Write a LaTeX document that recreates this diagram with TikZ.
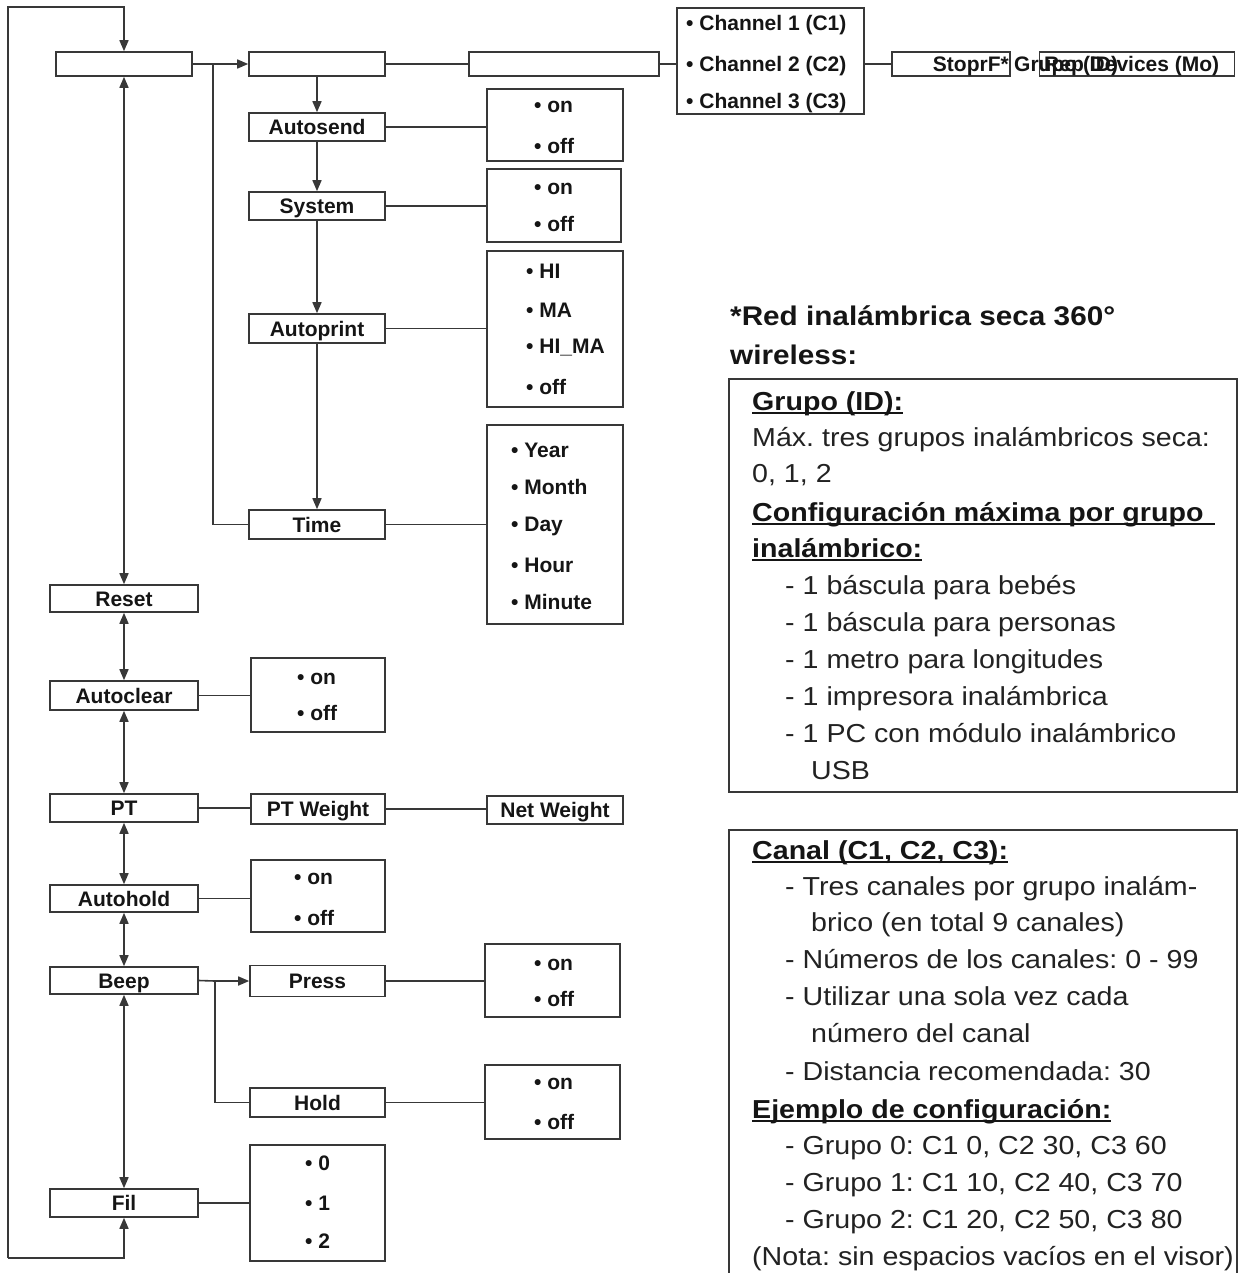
\documentclass[tikz,border=0pt]{standalone}
\usepackage{fontspec}
\setmainfont{Liberation Sans}
\newfontfamily\dfontfam{Liberation Sans}
\newfontfamily\rfontfam[FakeStretch=1.1]{Liberation Sans}
\usetikzlibrary{arrows.meta}
\definecolor{lc}{HTML}{383838}
\definecolor{tc}{HTML}{151515}
\definecolor{bc}{HTML}{222222}
\frenchspacing
\newcommand\dfont{\dfontfam\bfseries\fontsize{21}{25}\selectfont}
\newcommand\rfont{\rfontfam\fontsize{26}{31}\selectfont}
\newcommand\rbfont{\rfontfam\bfseries\fontsize{26}{31}\selectfont}
\newcommand\tfont{\rfontfam\bfseries\fontsize{27}{32}\selectfont}
\newcommand\myul[1]{\setbox0\hbox{#1}\rlap{\rule[-3.5pt]{\wd0}{1.6pt}}\box0}
\begin{document}
\begin{tikzpicture}[x=1pt,y=-1pt,
  bx/.style={draw=lc,line width=1.6pt,fill=white,inner sep=0pt,text height=15pt,text depth=0pt,font=\dfont,text=tc},
  ot/.style={anchor=west,inner sep=0pt,text height=15pt,text depth=0pt,font=\dfont,text=tc},
  ln/.style={draw=lc,line width=1.6pt},
  arr/.style={ln,-{Triangle[length=11pt,width=9pt]}},
  darr/.style={ln,{Triangle[length=11pt,width=9pt]}-{Triangle[length=11pt,width=9pt]}},
  rt/.style={anchor=west,inner sep=0pt,text height=18pt,text depth=0pt,font=\rfont,text=bc},
  rh/.style={anchor=west,inner sep=0pt,text height=18pt,text depth=0pt,font=\rbfont,text=tc},
  th/.style={anchor=west,inner sep=0pt,text height=19pt,text depth=0pt,font=\tfont,text=tc},
  frame/.style={draw=lc,line width=1.6pt,inner sep=0pt}]
\useasboundingbox (0,0) rectangle (1242,1273);
\clip (0,0) rectangle (1242,1273);
\fill[white] (0,0) rectangle (1242,1273);

% ---- top row ----
\node[bx,minimum width=136pt,minimum height=24pt] (t0) at (124,64) {};
\node[bx,minimum width=136pt,minimum height=24pt] (t1) at (317,64) {};
\node[bx,minimum width=190pt,minimum height=24pt] (t2) at (564,64) {};
\node[bx,minimum width=187pt,minimum height=106pt] (chan) at (770.5,61) {};
\node[ot] (c1) at (686,23) {• Channel 1 (C1)};
\node[ot] (c2) at (686,64) {• Channel 2 (C2)};
\node[ot] (c3) at (686,101) {• Channel 3 (C3)};
\node[bx,minimum width=118pt,minimum height=24pt] (stop) at (951,64) {};
\node[bx,minimum width=195pt,minimum height=24pt] (dev) at (1137,64) {};
\node[ot,anchor=east] (stoptxt) at (1009,64) {StoprF*};
\node[ot] (grtxt) at (1014,64) {Grupo (ID)};
\node[ot] (devtxt) at (1044,64) {Rep Devices (Mo)};

% ---- first submenu column ----
\node[bx,minimum width=136pt,minimum height=28pt] (autosend) at (317,127) {Autosend};
\node[bx,minimum width=136pt,minimum height=72pt] (aso) at (555,125) {};
\node[ot] (aso1) at (534,105) {• on};
\node[ot] (aso2) at (534,146) {• off};

\node[bx,minimum width=136pt,minimum height=28pt] (system) at (317,206) {System};
\node[bx,minimum width=134pt,minimum height=73pt] (syso) at (554,205.5) {};
\node[ot] (syso1) at (534,187) {• on};
\node[ot] (syso2) at (534,224) {• off};

\node[bx,minimum width=136pt,minimum height=29pt] (autoprint) at (317,328.5) {Autoprint};
\node[bx,minimum width=136pt,minimum height=156pt] (apo) at (555,329) {};
\node[ot] (apo1) at (526,271) {• HI};
\node[ot] (apo2) at (526,310) {• MA};
\node[ot] (apo3) at (526,346) {• HI\_MA};
\node[ot] (apo4) at (526,387) {• off};

\node[bx,minimum width=136pt,minimum height=29pt] (time) at (317,524.5) {Time};
\node[bx,minimum width=136pt,minimum height=199pt] (timo) at (555,524.5) {};
\node[ot] (timo1) at (511,450) {• Year};
\node[ot] (timo2) at (511,487) {• Month};
\node[ot] (timo3) at (511,524) {• Day};
\node[ot] (timo4) at (511,565) {• Hour};
\node[ot] (timo5) at (511,602) {• Minute};

% ---- left column ----
\node[bx,minimum width=148pt,minimum height=27pt] (reset) at (124,598.5) {Reset};
\node[bx,minimum width=148pt,minimum height=29pt] (autoclear) at (124,695.5) {Autoclear};
\node[bx,minimum width=134pt,minimum height=74pt] (aco) at (318,695) {};
\node[ot] (aco1) at (297,677) {• on};
\node[ot] (aco2) at (297,713) {• off};

\node[bx,minimum width=148pt,minimum height=28pt] (pt) at (124,808) {PT};
\node[bx,minimum width=134pt,minimum height=30pt] (ptw) at (318,809) {PT Weight};
\node[bx,minimum width=136pt,minimum height=28pt] (netw) at (555,810) {Net Weight};

\node[bx,minimum width=148pt,minimum height=27pt] (autohold) at (124,898.5) {Autohold};
\node[bx,minimum width=134pt,minimum height=72pt] (aho) at (318,896) {};
\node[ot] (aho1) at (294,877) {• on};
\node[ot] (aho2) at (294,918) {• off};

\node[bx,minimum width=148pt,minimum height=27pt] (beep) at (124,980.5) {Beep};
\node[bx,minimum width=135pt,minimum height=31pt] (press) at (317.5,981) {Press};
\node[bx,minimum width=135pt,minimum height=73pt] (presso) at (552.5,980.5) {};
\node[ot] (presso1) at (534,963) {• on};
\node[ot] (presso2) at (534,999) {• off};
\node[bx,minimum width=135pt,minimum height=29pt] (hold) at (317.5,1102.5) {Hold};
\node[bx,minimum width=135pt,minimum height=74pt] (holdo) at (552.5,1102) {};
\node[ot] (holdo1) at (534,1082) {• on};
\node[ot] (holdo2) at (534,1122) {• off};

\node[bx,minimum width=148pt,minimum height=28pt] (fil) at (124,1203) {Fil};
\node[bx,minimum width=135pt,minimum height=116pt] (filo) at (317.5,1203) {};
\node[ot] (filo1) at (305,1163) {• 0};
\node[ot] (filo2) at (305,1203) {• 1};
\node[ot] (filo3) at (305,1241) {• 2};

% ---- connectors ----
\coordinate (loopT) at (8,7);
\coordinate (loopB) at (8,1258);
\coordinate (j1) at (213,64);
\coordinate (j2) at (215,981);
\draw[arr] (loopB) -- (loopT) -| (t0.north);
\draw[arr] (loopB) -| (fil.south);
\draw[ln] (t0.east) -- (j1);
\draw[arr] (j1) -- (t1.west);
\draw[ln] (j1) |- (time.west);
\draw[ln] (t1.east) -- (t2.west);
\draw[ln] (t2.east) -- (t2.east -| chan.west);
\draw[ln] (chan.east |- stop.west) -- (stop.west);
\draw[arr] (t1.south) -- (autosend.north);
\draw[arr] (autosend.south) -- (system.north);
\draw[arr] (system.south) -- (autoprint.north);
\draw[arr] (autoprint.south) -- (time.north);
\draw[ln] (autosend.east) -- (autosend.east -| aso.west);
\draw[ln] (system.east) -- (system.east -| syso.west);
\draw[ln] (autoprint.east) -- (autoprint.east -| apo.west);
\draw[ln] (time.east) -- (time.east -| timo.west);

\draw[darr] (t0.south) -- (t0.south |- reset.north);
\draw[darr] (reset.south) -- (autoclear.north);
\draw[darr] (autoclear.south) -- (pt.north);
\draw[darr] (pt.south) -- (autohold.north);
\draw[darr] (autohold.south) -- (beep.north);
\draw[darr] (beep.south) -- (fil.north);
\draw[ln] (autoclear.east) -- (autoclear.east -| aco.west);
\draw[ln] (pt.east) -- (pt.east -| ptw.west);
\draw[ln] (ptw.east) -- (ptw.east -| netw.west);
\draw[ln] (autohold.east) -- (autohold.east -| aho.west);
\draw[ln] (beep.east) -- (j2);
\draw[arr] (j2) -- (press.west);
\draw[ln] (j2) |- (hold.west);
\draw[ln] (press.east) -- (press.east -| presso.west);
\draw[ln] (hold.east) -- (hold.east -| holdo.west);
\draw[ln] (fil.east) -- (fil.east -| filo.west);

% ---- right-hand notes ----
\node[th] (ti1) at (730,316) {*Red inalámbrica seca 360°};
\node[th] (ti2) at (730,355) {wireless:};

\node[frame,minimum width=508pt,minimum height=413pt] (box1) at (983,585.5) {};
\node[rh] (g1) at (752,401) {\myul{Grupo (ID):}};
\node[rt] (g2) at (752,437) {Máx. tres grupos inalámbricos seca:};
\node[rt] (g3) at (752,473) {0, 1, 2};
\node[rh] (g4) at (752,512) {\myul{Configuración máxima por grupo\hspace{12pt}}};
\node[rh] (g5) at (752,548) {\myul{inalámbrico:}};
\node[rt] (g6) at (785,585) {- 1 báscula para bebés};
\node[rt] (g7) at (785,622) {- 1 báscula para personas};
\node[rt] (g8) at (785,659) {- 1 metro para longitudes};
\node[rt] (g9) at (785,696) {- 1 impresora inalámbrica};
\node[rt] (g10) at (785,733) {- 1 PC con módulo inalámbrico};
\node[rt] (g11) at (811,770) {USB};

\node[frame,minimum width=508pt,minimum height=460pt] (box2) at (983,1060) {};
\node[rh] (k1) at (752,850) {\myul{Canal (C1, C2, C3):}};
\node[rt] (k2) at (785,886) {- Tres canales por grupo inalám-};
\node[rt] (k3) at (811,922) {brico (en total 9 canales)};
\node[rt] (k4) at (785,959) {- Números de los canales: 0 - 99};
\node[rt] (k5) at (785,996) {- Utilizar una sola vez cada};
\node[rt] (k6) at (811,1033) {número del canal};
\node[rt] (k7) at (785,1071) {- Distancia recomendada: 30};
\node[rh] (k8) at (752,1109) {\myul{Ejemplo de configuración:}};
\node[rt] (k9) at (785,1145) {- Grupo 0: C1 0, C2 30, C3 60};
\node[rt] (k10) at (785,1182) {- Grupo 1: C1 10, C2 40, C3 70};
\node[rt] (k11) at (785,1219) {- Grupo 2: C1 20, C2 50, C3 80};
\node[rt] (k12) at (752,1256) {(Nota: sin espacios vacíos en el visor)};
\end{tikzpicture}
\end{document}
